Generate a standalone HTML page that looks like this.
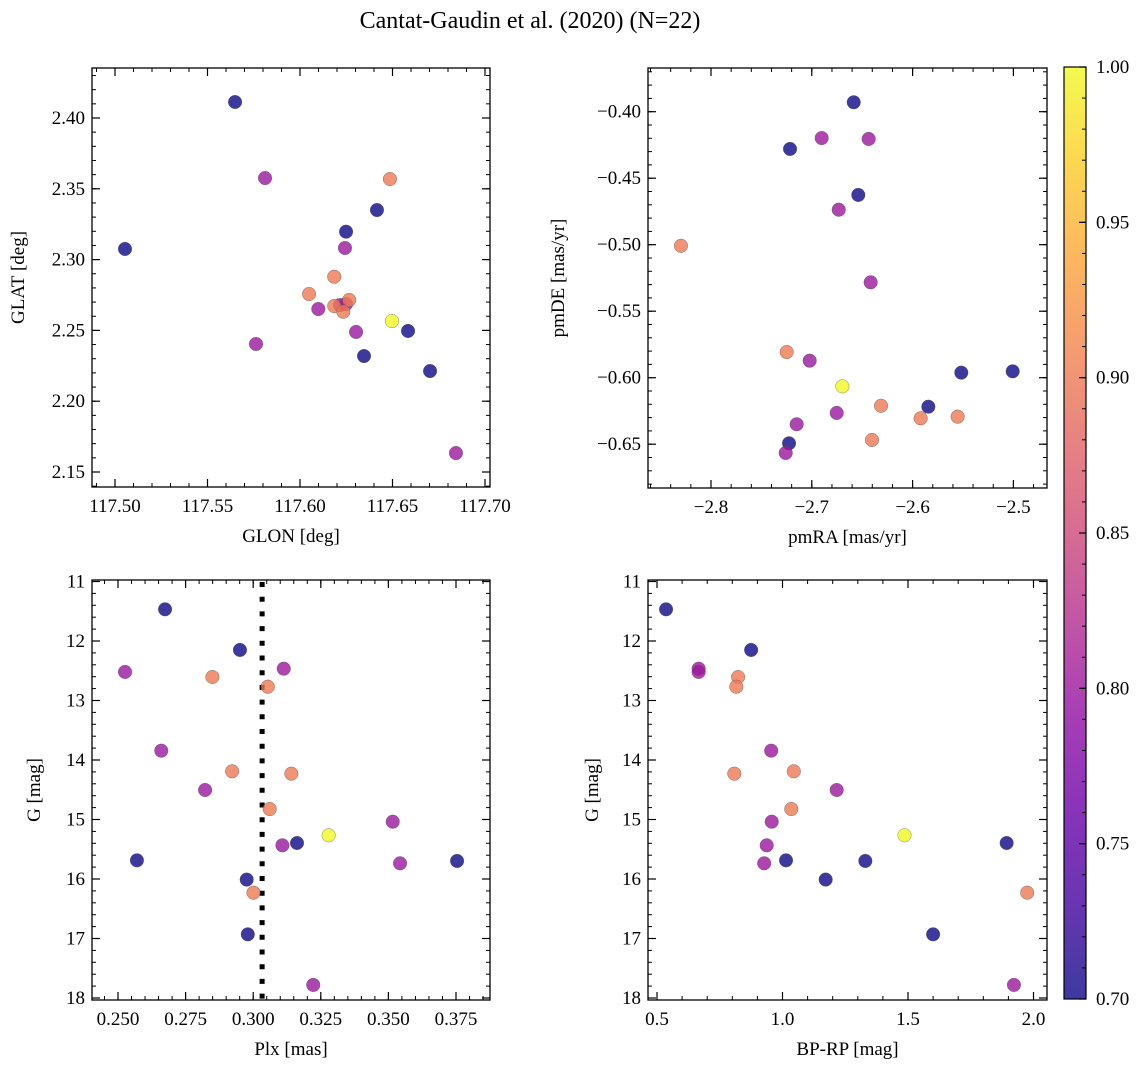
<!DOCTYPE html>
<html><head><meta charset="utf-8">
<style>
html,body{margin:0;padding:0;background:#fff;}
svg{display:block;font-family:"Liberation Serif","DejaVu Serif",serif;}
svg text{font-family:"Liberation Serif","DejaVu Serif",serif;}
</style></head>
<body>
<svg id="fig" width="1148" height="1067" viewBox="0 0 1148 1067" xmlns="http://www.w3.org/2000/svg">
<defs>
<linearGradient id="plasma" x1="0" y1="1" x2="0" y2="0">
<stop offset="0" stop-color="#0d0887"/><stop offset="0.1" stop-color="#41049d"/><stop offset="0.2" stop-color="#6a00a8"/><stop offset="0.3" stop-color="#8f0da4"/><stop offset="0.4" stop-color="#b12a90"/><stop offset="0.5" stop-color="#cc4778"/><stop offset="0.6" stop-color="#e16462"/><stop offset="0.7" stop-color="#f2844b"/><stop offset="0.8" stop-color="#fca636"/><stop offset="0.9" stop-color="#fcce25"/><stop offset="1" stop-color="#f0f921"/>
</linearGradient>
</defs>
<text x="530" y="28" text-anchor="middle" font-size="24">Cantat-Gaudin et al. (2020) (N=22)</text>
</svg>
<script>
// ---- data (per star) ----
const prob = [0.70,0.70,0.70,0.70,0.70,0.70,0.70, 0.80,0.80,0.80,0.80,0.80,0.80,0.80,0.80, 0.90,0.90,0.90,0.90,0.90,0.90, 1.00];
const glon = [117.5054,117.5649,117.6416,117.6249,117.6584,117.6346,117.6703, 117.5811,117.6243,117.6099,117.6216,117.6249,117.6303,117.5762,117.6843, 117.6486,117.6185,117.6049,117.6266,117.6185,117.6234, 117.6497];
const glat = [2.3075,2.4113,2.3350,2.3197,2.2496,2.2319,2.2213, 2.3576,2.3082,2.2651,2.2679,2.2686,2.2489,2.2404,2.1634, 2.3569,2.2879,2.2757,2.2715,2.2672,2.2632, 2.2566];
const pmra = [-2.6584,-2.7216,-2.6539,-2.5517,-2.5007,-2.5844,-2.7226, -2.6902,-2.6436,-2.6733,-2.6416,-2.7021,-2.6753,-2.7150,-2.7259, -2.8298,-2.7249,-2.6313,-2.5920,-2.5553,-2.6403, -2.6697];
const pmde = [-0.3929,-0.4280,-0.4626,-0.5962,-0.5952,-0.6218,-0.6493, -0.4198,-0.4205,-0.4737,-0.5283,-0.5872,-0.6265,-0.6350,-0.6566, -0.5008,-0.5807,-0.6211,-0.6305,-0.6293,-0.6468, -0.6065];
const gmag = [11.467,12.151,15.395,15.686,15.697,16.01,16.93, 12.465,12.52,13.843,14.504,15.037,15.434,15.736,17.78, 12.605,12.768,14.19,14.23,14.824,16.23, 15.266];
const plx  = [0.2674,0.2951,0.3162,0.257,0.3754,0.2976,0.2980, 0.3113,0.2526,0.266,0.2822,0.3516,0.3108,0.3543,0.3222, 0.2849,0.3054,0.2922,0.3141,0.3061,0.3001, 0.3279];
const bprp = [0.536,0.875,1.893,1.014,1.330,1.172,1.600, 0.666,0.666,0.955,1.216,0.957,0.937,0.927,1.922, 0.823,0.816,1.045,0.808,1.035,1.975, 1.486];
const plxRef = [0.3033];
const ticksGlon = [117.50,117.55,117.60,117.65,117.70];
const ticksGlat = [2.15,2.20,2.25,2.30,2.35,2.40];
const ticksPmra = [-2.8,-2.7,-2.6,-2.5];
const ticksPmde = [-0.65,-0.60,-0.55,-0.50,-0.45,-0.40];
const ticksPlx = [0.250,0.275,0.300,0.325,0.350,0.375];
const ticksG = [11,12,13,14,15,16,17,18];
const ticksBprp = [0.5,1.0,1.5,2.0];
const ticksCbar = [0.70,0.75,0.80,0.85,0.90,0.95,1.00];

const NS="http://www.w3.org/2000/svg";
const svg=document.getElementById('fig');
function mk(tag,attrs,parent){const e=document.createElementNS(NS,tag);for(const k in attrs)e.setAttribute(k,attrs[k]);(parent||svg).appendChild(e);return e;}
const stops=[[13,8,135],[65,4,157],[106,0,168],[143,13,164],[177,42,144],[204,71,120],[225,100,98],[242,132,75],[252,166,54],[252,206,37],[240,249,33]];
function plasma(t){t=Math.max(0,Math.min(1,t));const p=t*10,i=Math.min(9,Math.floor(p)),f=p-i;const a=stops[i],b=stops[i+1];return 'rgb('+a.map((v,k)=>Math.round(v+(b[k]-v)*f)).join(',')+')';}

function fmt(v,d){const s=Math.abs(v).toFixed(d);return (v<0?'\u2212':'')+s;}
const FS=19;
function panel(cfg){
  const g=mk('g',{});
  
  
  const {L,R,T,B}=cfg;
  for(let v=cfg.xmin;v<=cfg.xmax+1e-9;v+=cfg.xminor){const x=cfg.sx(v);if(x<L-0.5||x>R+0.5)continue;
    mk('line',{x1:x,x2:x,y1:B,y2:B-4,stroke:'#000','stroke-width':1},g);mk('line',{x1:x,x2:x,y1:T,y2:T+4,stroke:'#000','stroke-width':1},g);}
  for(let v=cfg.ymin;v<=cfg.ymax+1e-9;v+=cfg.yminor){const y=cfg.sy(v);if(y<T-0.5||y>B+0.5)continue;
    mk('line',{x1:L,x2:L+4,y1:y,y2:y,stroke:'#000','stroke-width':1},g);mk('line',{x1:R,x2:R-4,y1:y,y2:y,stroke:'#000','stroke-width':1},g);}
  cfg.xt.forEach(v=>{const x=cfg.sx(v);
    mk('line',{x1:x,x2:x,y1:B,y2:B-8,stroke:'#000','stroke-width':1.2},g);mk('line',{x1:x,x2:x,y1:T,y2:T+8,stroke:'#000','stroke-width':1.2},g);
    const t=mk('text',{x:x,y:B+25,'text-anchor':'middle','font-size':FS},g);t.textContent=fmt(v,cfg.xd);
    
    });
  cfg.yt.forEach(v=>{const y=cfg.sy(v);
    mk('line',{x1:L,x2:L+8,y1:y,y2:y,stroke:'#000','stroke-width':1.2},g);mk('line',{x1:R,x2:R-8,y1:y,y2:y,stroke:'#000','stroke-width':1.2},g);
    const t=mk('text',{x:L-7,y:y+6,'text-anchor':'end','font-size':FS},g);t.textContent=fmt(v,cfg.yd);
    
    });
  const xl=mk('text',{x:(L+R)/2,y:B+55,'text-anchor':'middle','font-size':19},g);xl.textContent=cfg.xlabel;
  
  
  const yl=mk('text',{x:0,y:0,'text-anchor':'middle','font-size':19,transform:`translate(${cfg.ylx},${(T+B)/2}) rotate(-90)`},g);yl.textContent=cfg.ylabel;
  
  
  if(cfg.extra)cfg.extra(g);
  for(let i=0;i<prob.length;i++){
    const c=mk('circle',{cx:cfg.sx(cfg.xs[i]),cy:cfg.sy(cfg.ys[i]),r:6.8,fill:plasma((prob[i]-0.7)/0.3),'fill-opacity':0.8,stroke:'#555','stroke-width':0.5,'stroke-opacity':0.7},g);
    
    
  }
  mk('rect',{x:L,y:T,width:R-L,height:B-T,fill:'none',stroke:'#000','stroke-width':1.3},g);
}

const sG=v=>641+(v-12)*59.5;
panel({name:'glon-glat-panel',L:92,R:490,T:68,B:487,sx:v=>115+(v-117.5)*1850,sy:v=>118-(v-2.40)*1416,
  xmin:117.48,xmax:117.71,xminor:0.01,ymin:2.13,ymax:2.44,yminor:0.01,xt:ticksGlon,yt:ticksGlat,xd:2,yd:2,
  xlabel:'GLON [deg]',ylabel:'GLAT [deg]',ylx:24,xs:glon,ys:glat});
panel({name:'pm-panel',L:648,R:1047,T:68,B:488,sx:v=>711+(v+2.8)*1008,sy:v=>111.7-(v+0.40)*1330,
  xmin:-2.86,xmax:-2.46,xminor:0.02,ymin:-0.69,ymax:-0.36,yminor:0.01,xt:ticksPmra,yt:ticksPmde,xd:1,yd:2,
  xlabel:'pmRA [mas/yr]',ylabel:'pmDE [mas/yr]',ylx:564,xs:pmra,ys:pmde});
panel({name:'plx-g-panel',L:92,R:490,T:580,B:1000,sx:v=>118+(v-0.25)*2704,sy:sG,
  xmin:0.24,xmax:0.39,xminor:0.005,ymin:11,ymax:18,yminor:0.2,xt:ticksPlx,yt:ticksG,xd:3,yd:0,
  xlabel:'Plx [mas]',ylabel:'G [mag]',ylx:40,xs:plx,ys:gmag,
  extra:g=>{const x=118+(plxRef[0]-0.25)*2704;const l=mk('line',{x1:x,x2:x,y1:582,y2:1000,stroke:'#000','stroke-width':5,'stroke-dasharray':'5 9.7'},g);
    
    }});
panel({name:'cmd-panel',L:648,R:1047,T:580,B:1000,sx:v=>657+(v-0.5)*251,sy:sG,
  xmin:0.4,xmax:2.1,xminor:0.1,ymin:11,ymax:18,yminor:0.2,xt:ticksBprp,yt:ticksG,xd:1,yd:0,
  xlabel:'BP-RP [mag]',ylabel:'G [mag]',ylx:598,xs:bprp,ys:gmag});

const cb=mk('g',{});


const cT=67,cB=999,cL=1064,cR=1086,cy=v=>cB-(v-0.7)/0.3*(cB-cT);
mk('rect',{x:cL,y:cT,width:cR-cL,height:cB-cT,fill:'url(#plasma)','fill-opacity':0.8},cb);
for(let k=0;k<=30;k++){const v=0.7+k*0.01,y=cy(v);mk('line',{x1:cR,x2:cR-4,y1:y,y2:y,stroke:'#000','stroke-width':1},cb);}
ticksCbar.forEach(v=>{const y=cy(v);mk('line',{x1:cR,x2:cR-7,y1:y,y2:y,stroke:'#000','stroke-width':1.2},cb);
  const t=mk('text',{x:cR+10,y:y+6,'font-size':FS},cb);t.textContent=v.toFixed(2);
  
  });
mk('rect',{x:cL,y:cT,width:cR-cL,height:cB-cT,fill:'none',stroke:'#000','stroke-width':1.2},cb);
</script>
</body></html>
